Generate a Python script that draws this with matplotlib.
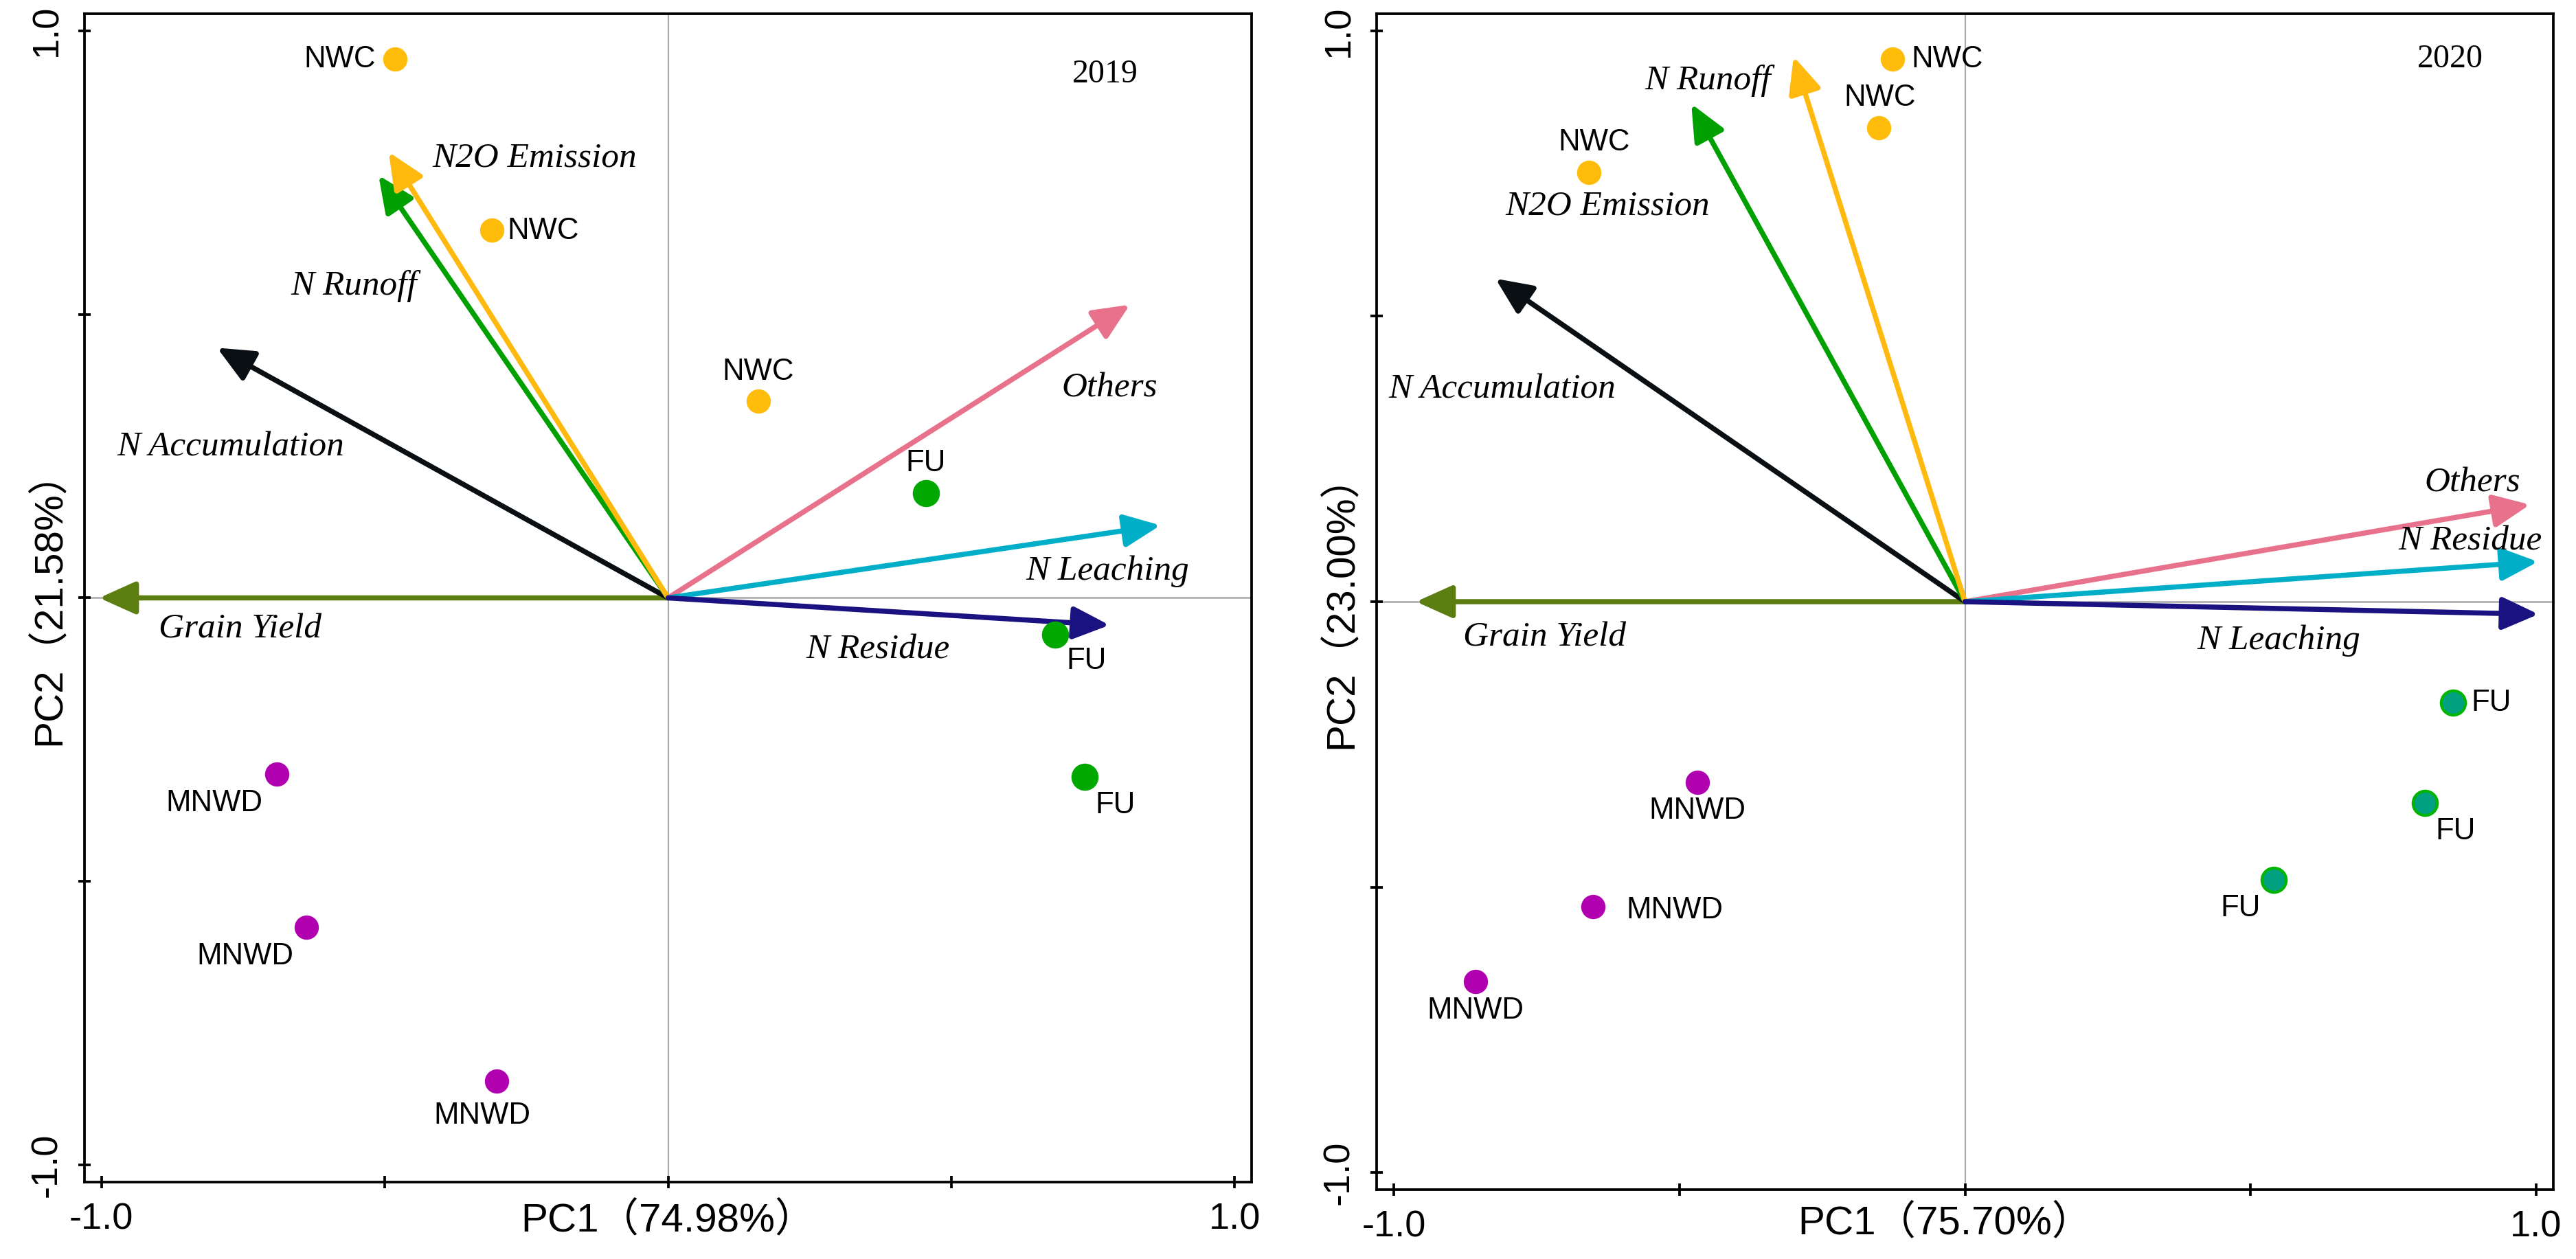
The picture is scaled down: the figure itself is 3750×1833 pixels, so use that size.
import numpy as np
import matplotlib
matplotlib.use('Agg')
import matplotlib.pyplot as plt

plt.rcParams['font.family'] = ['Liberation Sans', 'Noto Sans CJK SC']

# ---- variable loadings (arrows) ----
variables = ['Grain Yield', 'N Accumulation', 'N Runoff', 'N2O Emission',
             'Others', 'N Leaching', 'N Residue']
var_colors = ['#5C7E10', '#0A0F14', '#00A000', '#FFB90F',
              '#E8728C', '#00AEC8', '#1A1280']

load19_x = [-1.004, -0.796, -0.511, -0.493, 0.815, 0.869, 0.779]
load19_y = [0.000, 0.441, 0.745, 0.786, 0.517, 0.128, -0.048]
load20_x = [-0.961, -0.822, -0.479, -0.300, 0.989, 1.003, 1.004]
load20_y = [0.000, 0.566, 0.872, 0.955, 0.170, 0.070, -0.022]

# ---- sample scores (points) ----
groups = ['NWC', 'NWC', 'NWC', 'FU', 'FU', 'FU', 'MNWD', 'MNWD', 'MNWD']
score19_x = [-0.482, -0.311, 0.159, 0.455, 0.683, 0.735, -0.690, -0.638, -0.302]
score19_y = [0.950, 0.649, 0.347, 0.185, -0.065, -0.315, -0.311, -0.581, -0.852]
score20_x = [-0.127, -0.151, -0.659, 0.854, 0.805, 0.540, -0.469, -0.651, -0.857]
score20_y = [0.950, 0.830, 0.752, -0.177, -0.353, -0.487, -0.316, -0.534, -0.665]

pc1_19, pc2_19 = 74.98, 21.58
pc1_20, pc2_20 = 75.70, 23.00

# label placement (data coords)
vlab19 = [(-0.755, -0.056), (-0.772, 0.266), (-0.555, 0.550), (-0.236, 0.775),
          (0.779, 0.370), (0.776, 0.047), (0.370, -0.092)]
vlab20 = [(-0.736, -0.063), (-0.810, 0.371), (-0.626, 0.693), (-0.450, 0.913),
          (0.888, 0.208), (0.549, -0.068), (0.885, 0.106)]
# right panel: label text next to arrows as in the figure
vname20 = ['Grain Yield', 'N Accumulation', 'N2O Emission', 'N Runoff',
           'Others', 'N Leaching', 'N Residue']
plab19 = [(-0.580, 0.950), (-0.221, 0.647), (0.159, 0.398), (0.455, 0.237),
          (0.738, -0.111), (0.789, -0.366), (-0.801, -0.362), (-0.746, -0.632),
          (-0.328, -0.913)]
plab20 = [(-0.031, 0.950), (-0.149, 0.883), (-0.649, 0.804), (0.921, -0.177),
          (0.859, -0.403), (0.482, -0.537), (-0.468, -0.367), (-0.508, -0.541),
          (-0.857, -0.716)]

pt_face = {'NWC': '#FFBC0A', 'FU': '#00A800', 'MNWD': '#B000B0'}


def draw_panel(ax, lx, ly, names, vpos, sx, sy, ppos, pc1, pc2, year, ypos,
               fu_face, fu_edge):
    ax.set_xlim(-1.03, 1.03)
    ax.set_ylim(-1.03, 1.03)
    ax.axhline(0, color='#a8a8a8', lw=0.6, zorder=0)
    ax.axvline(0, color='#a8a8a8', lw=0.5, zorder=0)

    for i in range(len(lx)):
        ax.annotate('', xy=(lx[i], ly[i]), xytext=(0, 0),
                    arrowprops=dict(arrowstyle='-|>,head_length=0.6,head_width=0.27',
                                    color=var_colors[i], lw=1.8,
                                    mutation_scale=18, shrinkA=0, shrinkB=0),
                    zorder=2)
    for i, nm in enumerate(names):
        ax.text(vpos[i][0], vpos[i][1], nm, family='Liberation Serif',
                style='italic', fontsize=12.3, ha='center', va='center')

    for i, g in enumerate(groups):
        if g == 'FU':
            ax.scatter(sx[i], sy[i], s=72, color=fu_face, edgecolors=fu_edge,
                       linewidths=1.0, zorder=3)
        else:
            ax.scatter(sx[i], sy[i], s=72, color=pt_face[g], linewidths=0, zorder=3)
        ax.text(ppos[i][0], ppos[i][1], g, fontsize=10.5, ha='center', va='center')

    ax.text(ypos[0], ypos[1], year, family='Liberation Serif', fontsize=11.5,
            ha='center', va='center')

    ticks = [-1, -0.5, 0, 0.5, 1]
    ax.set_xticks(ticks)
    ax.set_xticklabels(['-1.0', '', '', '', '1.0'], fontsize=13)
    ax.set_yticks(ticks)
    ax.set_yticklabels(['-1.0', '', '', '', '1.0'], fontsize=13,
                       rotation=90, va='center')
    ax.tick_params(direction='inout', length=4.3, width=0.9, pad=5)
    for sp in ax.spines.values():
        sp.set_linewidth(0.9)

    ax.set_xlabel('PC1（%.2f%%）' % pc1, fontsize=14)
    ax.xaxis.label.set_va('center')
    ax.set_ylabel('PC2（%.2f%%）' % pc2, fontsize=14)
    ax.yaxis.label.set_va('center')


fig = plt.figure(figsize=(12.5, 6.11), dpi=300)
ax1 = fig.add_axes([0.0328, 0.0611, 0.4531, 0.9280])
ax2 = fig.add_axes([0.5344, 0.0551, 0.4568, 0.9340])

draw_panel(ax1, load19_x, load19_y, variables, vlab19, score19_x, score19_y,
           plab19, pc1_19, pc2_19, '2019', (0.771, 0.924), '#00A800', '#00A800')
draw_panel(ax2, load20_x, load20_y, vname20, vlab20, score20_x, score20_y,
           plab20, pc1_20, pc2_20, '2020', (0.849, 0.950), '#00A080', '#00B400')

ax1.xaxis.set_label_coords(0.5, -0.0335)
ax1.yaxis.set_label_coords(-0.030, 0.5)
ax2.xaxis.set_label_coords(0.483, -0.029)
ax2.yaxis.set_label_coords(-0.030, 0.5)

fig.savefig('out.png', dpi=300)
